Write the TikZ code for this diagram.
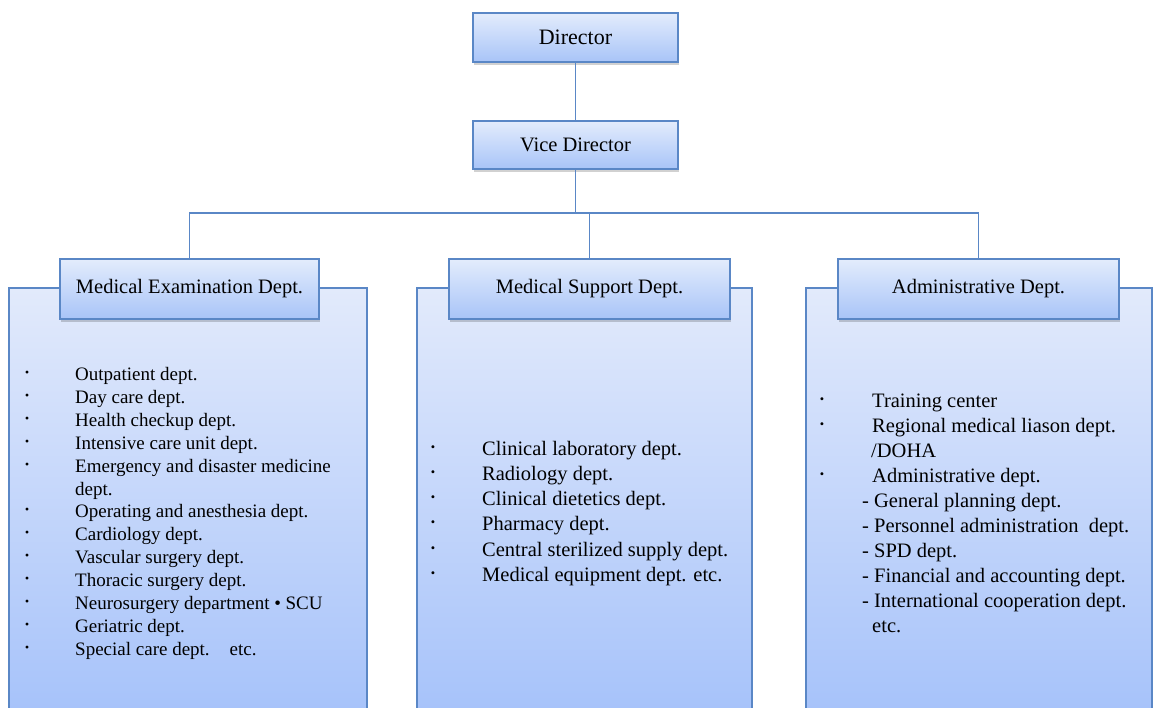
\documentclass[tikz,border=0pt]{standalone}
\usepackage{fontspec}
\setmainfont{Liberation Serif}
\usetikzlibrary{shadows}
\definecolor{edge}{HTML}{5A87C6}
\definecolor{boxtop}{HTML}{E3ECFC}
\definecolor{boxbot}{HTML}{A8C4F8}
\definecolor{paneltop}{HTML}{E2EAFB}
\definecolor{panelbot}{HTML}{A4C1FA}
\begin{document}
\begin{tikzpicture}[x=1pt,y=-1pt,
  hbox/.style={draw=edge, line width=1.2pt, top color=boxtop, bottom color=boxbot,
    inner sep=0pt, font=\fontsize{20.5}{24}\selectfont,
    drop shadow={shadow xshift=1pt, shadow yshift=-3pt, opacity=0.18, fill=black}},
  panel/.style={draw=edge, line width=1.2pt, top color=paneltop, bottom color=panelbot},
  link/.style={draw=edge, line width=1.2pt},
  txtL/.style={anchor=base west, inner sep=0pt, font=\fontsize{19}{22}\selectfont},
  txtR/.style={anchor=base west, inner sep=0pt, font=\fontsize{20.5}{24}\selectfont},
  bulL/.style={anchor=base, inner sep=0pt, font=\fontsize{24}{26}\selectfont},
  bulR/.style={anchor=base, inner sep=0pt, font=\fontsize{25}{28}\selectfont}]
\useasboundingbox (0,0) rectangle (1155,707);
\clip (0,0) rectangle (1155,707);

% department panels (they run past the lower edge)
\path[panel] (9,288) rectangle (367,730);
\path[panel] (417,288) rectangle (752,730);
\path[panel] (806,288) rectangle (1152,730);

% boxes of the hierarchy
\node[hbox, minimum width=205pt, minimum height=49pt, font=\fontsize{22}{26}\selectfont] (dir) at (575.5,37.5) {Director};
\node[hbox, minimum width=205pt, minimum height=48pt] (vice) at (575.5,145) {Vice Director};
\node[hbox, minimum width=259pt, minimum height=60pt] (exam) at (189.5,289) {Medical Examination Dept.};
\node[hbox, minimum width=281pt, minimum height=60pt] (supp) at (589.5,289) {Medical Support Dept.};
\node[hbox, minimum width=281pt, minimum height=60pt] (admin) at (978.5,289) {Administrative Dept.};

% connectors
\coordinate (bus) at (575.5,213);
\draw[link] (dir.south) -- (vice.north);
\draw[link] (vice.south) -- (bus);
\draw[link] (exam.north) -- (exam.north |- bus) -- (admin.north |- bus) -- (admin.north);
\draw[link] (supp.north) -- (supp.north |- bus);

% Medical Examination Dept. list
\foreach \t [count=\i] in {{Outpatient dept.},{Day care dept.},{Health checkup dept.},
    {Intensive care unit dept.},{Emergency and disaster medicine},{dept.},
    {Operating and anesthesia dept.},{Cardiology dept.},{Vascular surgery dept.},
    {Thoracic surgery dept.},{Neurosurgery department • SCU},{Geriatric dept.},
    {Special care dept.\hspace{1.05em}etc.}}
  \node[txtL] (ex\i) at (75,{380.7+22.86*(\i-1)}) {\t};
\foreach \i in {1,2,3,4,5,7,8,9,10,11,12,13}
  \node[bulL] (exb\i) at (27,{380.7+22.86*(\i-1)}) {·};

% Medical Support Dept. list
\foreach \t [count=\i] in {{Clinical laboratory dept.},{Radiology dept.},
    {Clinical dietetics dept.},{Pharmacy dept.},{Central sterilized supply dept.},
    {Medical equipment dept. etc.}}
  {\node[txtR] (su\i) at (482,{455+25.3*(\i-1)}) {\t};
   \node[bulR] (sub\i) at (433,{455+25.3*(\i-1)}) {·};}

% Administrative Dept. list
\node[txtR] (ad1) at (872,407) {Training center};
\node[txtR] (ad2) at (872,432.1) {Regional medical liason dept.};
\node[txtR] (ad3) at (871,457.2) {/DOHA};
\node[txtR] (ad4) at (872,482.3) {Administrative dept.};
\node[txtR] (ad5) at (862,507.4) {- General planning dept.};
\node[txtR] (ad6) at (862,532.5) {- Personnel administration\ \ dept.};
\node[txtR] (ad7) at (862,557.6) {- SPD dept.};
\node[txtR] (ad8) at (862,582.7) {- Financial and accounting dept.};
\node[txtR] (ad9) at (862,607.8) {- International cooperation dept.};
\node[txtR] (ad10) at (872,632.9) {etc.};
\node[bulR] (adb1) at (822,407) {·};
\node[bulR] (adb2) at (822,432.1) {·};
\node[bulR] (adb4) at (822,482.3) {·};
\end{tikzpicture}
\end{document}
